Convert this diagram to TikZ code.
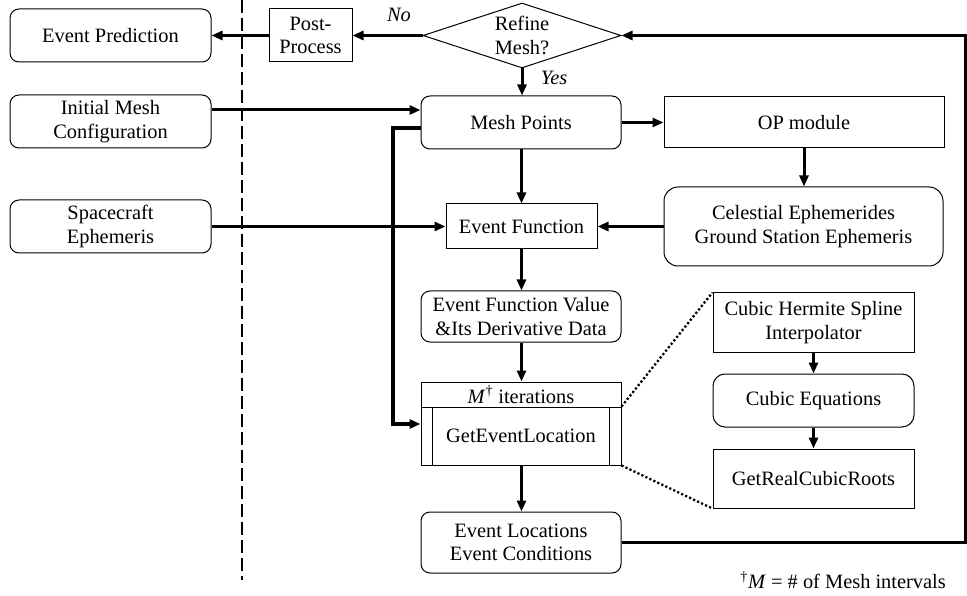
\documentclass[tikz,border=0pt]{standalone}
\usepackage{fontspec}
\setmainfont{Liberation Serif}
\usetikzlibrary{arrows.meta,shapes.geometric,calc}
\begin{document}
\begin{tikzpicture}[x=1pt,y=-1pt,
  every node/.style={font=\fontsize{20.4}{23.5}\selectfont, align=center, inner sep=0pt},
  rbox/.style={draw, line width=1pt, rounded corners=9pt},
  sbox/.style={draw, line width=1pt},
  conn/.style={line width=3pt, -{Triangle[length=11pt,width=9pt]}},
  dots/.style={line width=2.3pt, dash pattern=on 2.2pt off 2.2pt},
  lbl/.style={font=\fontsize{20.4}{23.5}\selectfont\itshape}]
\useasboundingbox[fill=white] (0,0) rectangle (967,596);

% left column
\node[rbox, minimum width=201pt, minimum height=53pt] (pred) at (110.5,35.5) {Event Prediction};
\node[rbox, minimum width=201pt, minimum height=53pt] (init) at (110.5,121.5) {Initial Mesh\\Configuration};
\node[rbox, minimum width=201pt, minimum height=53pt] (spc) at (110.5,226.5) {Spacecraft\\Ephemeris};

% dashed separator
\coordinate (dtop) at (242,0);
\coordinate (dbot) at (242,580);
\draw[line width=1.3pt, dash pattern=on 13pt off 5pt] (dtop) -- (dbot);

% top row
\node[sbox, minimum width=83pt, minimum height=53pt] (post) at (310.5,35.5) {Post-\\Process};
\node[diamond, draw, line width=1pt, minimum width=198pt, minimum height=65pt] (refine) at (522,35.5) {};
\node (refinetxt) at (522,35.5) {Refine\\Mesh?};

% centre column
\node[rbox, minimum width=200pt, minimum height=53pt] (mesh) at (521,122.5) {Mesh Points};
\node[sbox, minimum width=151pt, minimum height=45pt] (ef) at (521.5,226.5) {Event Function};
\node[rbox, minimum width=200pt, minimum height=51pt] (efv) at (521,316.5) {Event Function Value\\\&Its Derivative Data};
\node[sbox, minimum width=200pt, minimum height=25pt] (mhead) at (521,394.5) {\textit{M}\textsuperscript{†} iterations};
\node[sbox, minimum width=200pt, minimum height=58pt] (mbody) at (521,436) {GetEventLocation};
\draw[line width=1pt] ([xshift=12pt]mbody.south west) -- ([xshift=12pt]mbody.north west);
\draw[line width=1pt] ([xshift=-12pt]mbody.south east) -- ([xshift=-12pt]mbody.north east);
\node[rbox, minimum width=200pt, minimum height=61pt] (evloc) at (521,542.5) {Event Locations\\Event Conditions};

% right column
\node[sbox, minimum width=280pt, minimum height=51pt] (op) at (804,122.5) {OP module};
\node[rbox, rounded corners=14pt, minimum width=279pt, minimum height=79pt] (cel) at (803.5,226.5) {Celestial Ephemerides\\Ground Station Ephemeris};
\node[sbox, minimum width=201pt, minimum height=59pt] (herm) at (813.5,322.5) {Cubic Hermite Spline\\Interpolator};
\node[rbox, rounded corners=12pt, minimum width=201pt, minimum height=53pt] (cubeq) at (813.5,400.5) {Cubic Equations};
\node[sbox, minimum width=201pt, minimum height=59pt] (roots) at (813.5,478.5) {GetRealCubicRoots};

% labels
\node[lbl] (no) at (399,15) {No};
\node[lbl] (yes) at (554,78) {Yes};
\node[anchor=east] (foot) at (946,580) {\textsuperscript{†}\textit{M} = \# of Mesh intervals};

% helper coordinates
\coordinate (yinit) at (0,110);
\coordinate (yfb) at (0,128);
\coordinate (xfb) at (393,0);
\coordinate (yin) at (0,424);
\coordinate (xr) at (965,0);

% connectors
\draw[conn] (refine.west) -- (post.east);
\draw[conn] (post.west) -- (pred.east);
\draw[conn] (refine.south) -- (mesh.north -| refine.south);
\draw[conn] (init.east |- yinit) -- (mesh.west |- yinit);
\draw[conn] (mesh.east) -- (op.west |- mesh.east);
\draw[conn] (mesh.south -| ef.north) -- (ef.north);
\draw[conn] (op.south) -- (cel.north -| op.south);
\draw[conn] (cel.west) -- (ef.east);
\draw[conn] (spc.east) -- (ef.west);
\draw[conn] (ef.south) -- (efv.north -| ef.south);
\draw[conn] (efv.south -| ef.south) -- (mhead.north -| ef.south);
\draw[conn] (mbody.south -| ef.south) -- (evloc.north -| ef.south);
\draw[conn, line width=3.2pt] (mesh.west |- yfb) -- (xfb |- yfb) -- (xfb |- yin) -- (mbody.west |- yin);
\draw[conn] (evloc.east) -- (xr |- evloc.east) -- (xr |- refine.east) -- (refine.east);
\draw[conn] (herm.south) -- (cubeq.north);
\draw[conn] (cubeq.south) -- (roots.north);
\draw[dots] (mbody.north east) -- (herm.north west);
\draw[dots] (mbody.south east) -- (roots.south west);
\end{tikzpicture}
\end{document}
